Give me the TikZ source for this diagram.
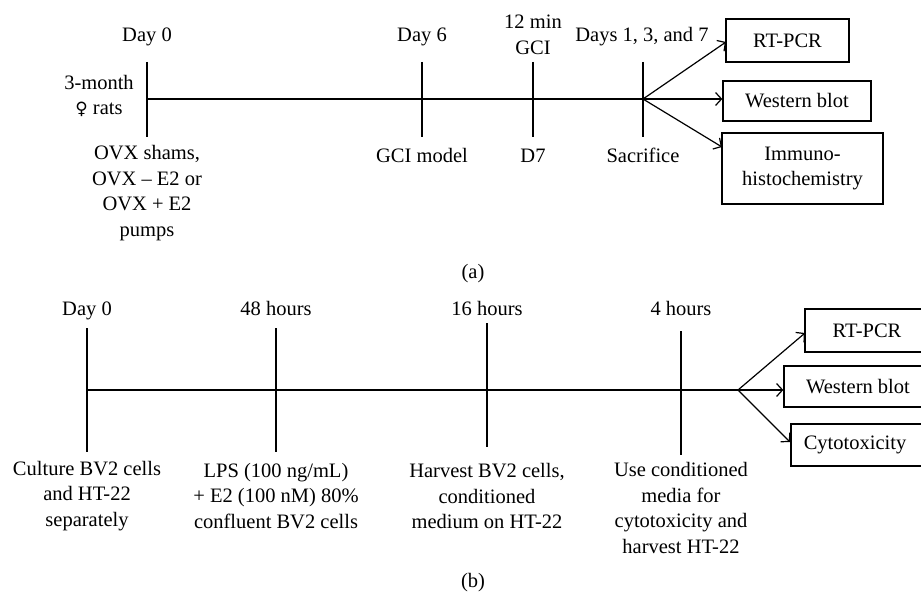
\documentclass[tikz,border=0pt]{standalone}
\usepackage{fontspec}
\setmainfont{Liberation Serif}
\newfontfamily\symfont{DejaVu Sans}
\usetikzlibrary{arrows.meta}
\begin{document}
\begin{tikzpicture}[x=1pt,y=-1pt,
  lbl/.style={inner sep=0pt,align=center,font=\fontsize{20.5}{25.7}\selectfont},
  lbl1/.style={lbl,text height=18pt,text depth=4pt},
  outbox/.style={draw,line width=1.3pt,inner sep=0pt,align=center,font=\fontsize{20.5}{25.7}\selectfont},
  tl/.style={line width=1.2pt},
  arr/.style={line width=1.2pt,-{Straight Barb[length=6pt,width=13pt,line width=1.2pt]}}]
\useasboundingbox (0,0) rectangle (921,594);
\clip (0,0) rectangle (921,594);
% ---------------- panel (a) ----------------
\node[lbl1] (a0) at (147,35) {Day 0};
\node[lbl1] (a6) at (422,35) {Day 6};
\node[lbl] (a7) at (533,35) {12 min\\GCI};
\node[lbl1] (asac) at (642,35) {Days 1, 3, and 7};
\node[lbl] (arats) at (99,96) {3-month\\{\symfont\bfseries\fontsize{17}{18}\selectfont ♀} rats};
\node[lbl] (ab0) at (147,193) {OVX shams,\\OVX -- E2 or\\OVX + E2\\pumps};
\node[lbl1] (ab6) at (422,155) {GCI model};
\node[lbl1] (ab7) at (533,155) {D7};
\node[lbl1] (absac) at (643,155) {Sacrifice};
\coordinate (at0t) at (147,62);  \coordinate (at0b) at (147,137);
\coordinate (at6t) at (422,62);  \coordinate (at6b) at (422,137);
\coordinate (at7t) at (533,62);  \coordinate (at7b) at (533,137);
\coordinate (atst) at (643,62);  \coordinate (atsb) at (643,137);
\coordinate (astart) at (147,99);
\coordinate (asplit) at (643,99);
\draw[tl] (at0t) -- (at0b);
\draw[tl] (at6t) -- (at6b);
\draw[tl] (at7t) -- (at7b);
\draw[tl] (atst) -- (atsb);
\draw[tl] (astart) -- (asplit);
\node[outbox,minimum width=123pt,minimum height=43pt] (art) at (787.5,40.5) {RT-PCR};
\node[outbox,minimum width=148pt,minimum height=40pt] (awb) at (797,101) {Western blot};
\node[outbox,minimum width=161pt,minimum height=71pt] (aim) at (802.5,168.5) {Immuno-\\histochemistry};
\coordinate (artip) at (726,42);
\coordinate (aimtip) at (722,147);
\draw[arr] (asplit) -- (artip);
\draw[arr] (asplit) -- (awb.west |- asplit);
\draw[arr] (asplit) -- (aimtip);
\node[lbl1] (capa) at (473,271) {(a)};
% ---------------- panel (b) ----------------
\node[lbl1] (b0) at (87,308) {Day 0};
\node[lbl1] (b48) at (276,308) {48 hours};
\node[lbl1] (b16) at (487,308) {16 hours};
\node[lbl1] (b4) at (681,308) {4 hours};
\node[lbl] (bb0) at (87,496) {Culture BV2 cells\\and HT-22\\separately};
\node[lbl] (bb48) at (276,496) {LPS (100 ng/mL)\\+ E2 (100 nM) 80\%\\confluent BV2 cells};
\node[lbl] (bb16) at (487,496) {Harvest BV2 cells,\\conditioned\\medium on HT-22};
\node[lbl] (bb4) at (681,508) {Use conditioned\\media for\\cytotoxicity and\\harvest HT-22};
\coordinate (bt0t) at (87,328);   \coordinate (bt0b) at (87,452);
\coordinate (bt48t) at (276,328); \coordinate (bt48b) at (276,452);
\coordinate (bt16t) at (487,323); \coordinate (bt16b) at (487,447);
\coordinate (bt4t) at (681,331);  \coordinate (bt4b) at (681,455);
\coordinate (bstart) at (87,390);
\coordinate (bsplit) at (738,390);
\draw[tl] (bt0t) -- (bt0b);
\draw[tl] (bt48t) -- (bt48b);
\draw[tl] (bt16t) -- (bt16b);
\draw[tl] (bt4t) -- (bt4b);
\draw[tl] (bstart) -- (bsplit);
\node[outbox,minimum width=124pt,minimum height=43pt] (brt) at (867,330.5) {RT-PCR};
\node[outbox,minimum width=148pt,minimum height=41pt] (bwb) at (858,386.5) {Western blot};
\node[outbox,minimum width=134pt,minimum height=42pt] (bcy) at (858,445) {\hspace*{-6pt}Cytotoxicity};
\coordinate (brtip) at (805,333);
\coordinate (bcytip) at (790,442);
\draw[arr] (bsplit) -- (brtip);
\draw[arr] (bsplit) -- (bwb.west |- bsplit);
\draw[arr] (bsplit) -- (bcytip);
\node[lbl] (capb) at (473,583) {(b)};
\end{tikzpicture}
\end{document}
